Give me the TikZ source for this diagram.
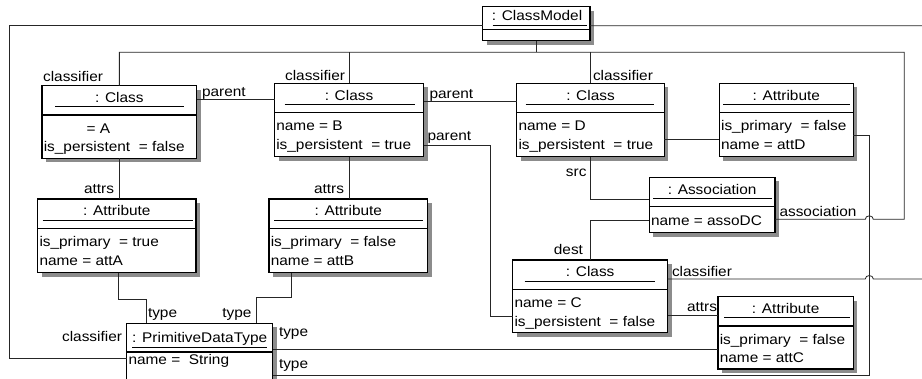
\documentclass[tikz,border=0pt]{standalone}
\usepackage{fontspec}
\setmainfont{Liberation Sans}[FakeStretch=1.1]
\usetikzlibrary{calc}
\tikzset{
  every node/.style={font=\fontsize{14}{16}\selectfont, inner sep=0pt, outer sep=0pt},
  objbox/.style={draw=black, line width=1.3pt, fill=white, anchor=north west, outer sep=0pt, inner sep=0pt},
  shadowfill/.style={fill=black!45},
  sepline/.style={draw=black, line width=1.2pt},
  ulinestyle/.style={draw=black, line width=0.9pt},
  conn/.style={draw=black!85, line width=0.8pt},
  lblw/.style={anchor=base west},
  lble/.style={anchor=base east},
  titlestyle/.style={anchor=base},
  rowstyle/.style={anchor=base west},
}
% #1 name, #2 x, #3 y, #4 w, #5 h, #6 underline inset left, #7 underline inset right, #8 title
\newcommand\umlobj[8]{%
  \fill[shadowfill] (#2+4,#3+4) rectangle (#2+#4+4,#3+#5+4);
  \node[objbox, minimum width=#4pt, minimum height=#5pt] (#1) at (#2,#3) {};
  \draw[sepline] (#2,#3+29.3) -- (#2+#4,#3+29.3);
  \draw[ulinestyle] (#2+#6,#3+21) -- (#2+#4-#7,#3+21);
  \node[titlestyle] (#1-title) at (#2+#4/2,#3+16.8) {#8};
}
\newcommand\umlrows[3]{%
  \node[rowstyle] (#1-r1) at ($(#1.north west)+(1.8,47.5)$) {#2};
  \node[rowstyle] (#1-r2) at ($(#1.north west)+(1.8,66.3)$) {#3};
}
\begin{document}
\begin{tikzpicture}[x=1pt,y=-1pt]
\useasboundingbox (0,0) rectangle (922,379);
\clip (0,0) rectangle (922,379);
\fill[white] (0,0) rectangle (922,379);

% ClassModel
\fill[shadowfill] (486.7,10.7) rectangle (594,44.7);
\node[objbox, minimum width=107.3pt, minimum height=34pt] (CM) at (482.7,6.7) {};
\draw[ulinestyle] (492.7,25) -- (587.3,25);
\draw[sepline] (482.7,29.3) -- (590,29.3);
\node[titlestyle] (CM-title) at (537,20.7) {: ClassModel};

% objects
\umlobj{A}{42}{85.7}{154.7}{72.7}{13}{13}{: Class}
\umlrows{A}{\phantom{name} = A}{is\_persistent~ = false}
\umlobj{B}{274.5}{83.3}{149}{73.4}{10}{9}{: Class}
\umlrows{B}{name = B}{is\_persistent~ = true}
\umlobj{D}{516.7}{83.3}{147.6}{73.4}{9}{10}{: Class}
\umlrows{D}{name = D}{is\_persistent~ = true}
\umlobj{AD}{719.3}{83.3}{134}{73.4}{4}{3}{: Attribute}
\umlrows{AD}{is\_primary~ = false}{name = attD}
\umlobj{AA}{37.7}{199}{158.3}{73.7}{5}{3}{: Attribute}
\umlrows{AA}{is\_primary~ = true}{name = attA}
\umlobj{AB}{269}{199}{158.7}{73.7}{5}{5}{: Attribute}
\umlrows{AB}{is\_primary~ = false}{name = attB}
\umlobj{As}{649.3}{177.3}{125.7}{55.4}{4}{3}{: Association}
\node[rowstyle] (As-r1) at ($(As.north west)+(1.8,48.5)$) {name = assoDC};
\umlobj{C}{512.7}{260}{155}{72.7}{12}{13}{: Class}
\umlrows{C}{name = C}{is\_persistent~ = false}
\umlobj{AC}{718}{296.7}{135.3}{72.3}{6}{3}{: Attribute}
\umlrows{AC}{is\_primary~ = false}{name = attC}

% PrimitiveDataType
\fill[shadowfill] (130.7,327.3) rectangle (276.7,400.3);
\node[objbox, minimum width=146pt, minimum height=73pt] (PDT) at (126.7,323.3) {};
\draw[sepline] (126.7,352) -- (272.7,352);
\node[titlestyle] (PDT-title) at (199.7,343) {\underline{: PrimitiveDataType}};
\node[rowstyle] (PDT-r1) at (128.5,365) {name =~ String};

% connectors
\coordinate (bus) at (0,52.3);
\draw[conn] (CM.south) -- (CM.south |- bus);
\draw[conn] (A.north) |- (904.3,52.3) -- (904.3,219.3) -- (873.3,219.3)
  arc[start angle=0, end angle=-180, x radius=4, y radius=3.5] -- ($(As.north east)+(0,42)$);
\draw[conn] (B.north) -- (B.north |- bus);
\draw[conn] (D.north) -- (D.north |- bus);
\draw[conn] ($(CM.north west)+(0,19)$) -| (9.3,358) -- ($(PDT.north west)+(0,34.7)$);
\draw[conn] ($(CM.north east)+(0,19)$) -- (935,25.7) -- (935,279) -- (873.3,279)
  arc[start angle=0, end angle=-180, x radius=4, y radius=3.5] -- ($(C.north east)+(0,19)$);
\draw[conn] ($(A.north east)+(0,13.6)$) -- ($(B.north west)+(0,16)$);
\draw[conn] ($(B.north east)+(0,18.6)$) -- ($(D.north west)+(0,18.6)$);
\draw[conn] ($(B.north east)+(0,62.4)$) -| (490,316.7) -- ($(C.north west)+(0,56.7)$);
\draw[conn] (A.south) -- (A.south |- AA.north);
\draw[conn] (B.south) -- (B.south |- AB.north);
\draw[conn] ($(AA.south west)+(80.6,0)$) |- (146.7,299) -- ($(PDT.north west)+(20,0)$);
\draw[conn] ($(AB.south west)+(22.7,0)$) |- (256.7,297.7) -- ($(PDT.north west)+(130,0)$);
\draw[conn] (D.south) |- ($(As.north west)+(0,21.7)$);
\draw[conn] ($(As.north west)+(0,42.7)$) -| (C.north);
\draw[conn] ($(D.north east)+(0,55.7)$) -- ($(AD.north west)+(0,55.7)$);
\draw[conn] ($(AD.north east)+(0,51.7)$) -| (869.3,375.7) -- ($(PDT.north west)+(146,52.4)$);
\draw[conn] ($(AC.north west)+(0,52.3)$) -- ($(PDT.north east)+(0,25.7)$);
\draw[conn] ($(C.north east)+(0,55)$) -- ($(AC.north west)+(0,18.3)$);

% labels
\node[lble] (l1) at (103,81.7) {classifier};
\node[lble] (l2) at (345,80.5) {classifier};
\node[lblw] (l3) at (593,80.5) {classifier};
\node[lblw] (l4) at (202,97) {parent};
\node[lblw] (l5) at (429.5,98.7) {parent};
\node[lblw] (l6) at (427.5,140.5) {parent};
\node[lble] (l7) at (114,193.3) {attrs};
\node[lble] (l8) at (344,193.3) {attrs};
\node[lblw] (l9) at (148,317.7) {type};
\node[lble] (l10) at (251.5,317.7) {type};
\node[lble] (l11) at (122,341.7) {classifier};
\node[lblw] (l12) at (279,337) {type};
\node[lblw] (l13) at (279,368.7) {type};
\node[lble] (l14) at (586.5,176.7) {src};
\node[lble] (l15) at (583,254.3) {dest};
\node[lblw] (l16) at (779.5,217) {association};
\node[lblw] (l17) at (672,276.7) {classifier};
\node[lble] (l18) at (717,311.7) {attrs};
\end{tikzpicture}
\end{document}
